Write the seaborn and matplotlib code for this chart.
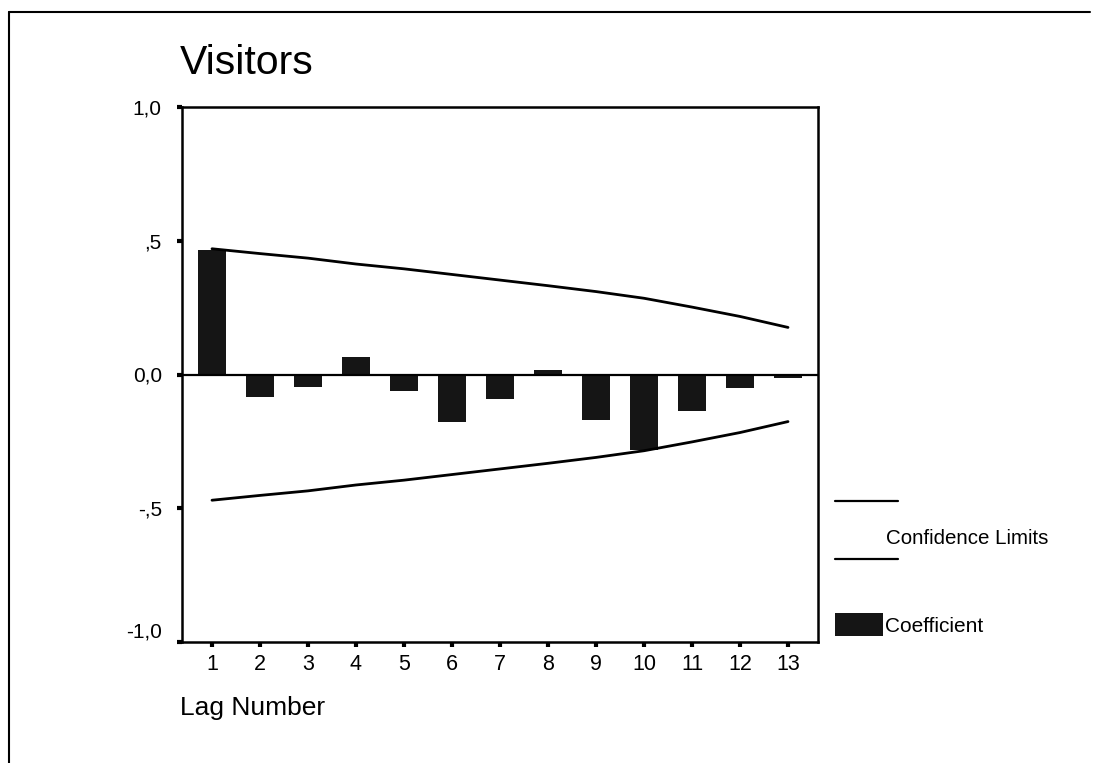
import matplotlib
matplotlib.use("Agg")
import matplotlib.pyplot as plt
import matplotlib.transforms as mtransforms
from matplotlib.lines import Line2D
from matplotlib.patches import Rectangle
import numpy as np
import pandas as pd
import seaborn as sns

# ---- data ----
lags = [1, 2, 3, 4, 5, 6, 7, 8, 9, 10, 11, 12, 13]
coefficient = [0.466, -0.083, -0.047, 0.065, -0.060, -0.177, -0.093, 0.017,
               -0.170, -0.284, -0.137, -0.052, -0.014]
upper_limit = [0.470, 0.452, 0.435, 0.413, 0.395, 0.374, 0.353, 0.332,
               0.310, 0.285, 0.252, 0.217, 0.176]
lower_limit = [-v for v in upper_limit]
y_ticks = [-1.0, -0.5, 0.0, 0.5, 1.0]
y_tick_labels = ["-1,0", "-,5", "0,0", ",5", "1,0"]
title = "Visitors"
x_title = "Lag Number"
legend_ci = "Confidence Limits"
legend_coef = "Coefficient"

sns.set_theme(style="white")
plt.rcParams["font.family"] = ["Liberation Sans", "DejaVu Sans"]

W, H = 1096, 763
fig = plt.figure(figsize=(W / 100, H / 100), dpi=100)
fig.patch.set_facecolor("white")

def fx(px):
    return px / W

def fy(py):
    return 1 - py / H

ax = fig.add_axes([fx(182), fy(642), fx(818) - fx(182), fy(107) - fy(642)])
ax.set_facecolor("white")

df = pd.DataFrame({"lag": lags, "coef": coefficient,
                   "upper": upper_limit, "lower": lower_limit})

sns.barplot(data=df, x="lag", y="coef", native_scale=True, width=0.58,
            color="#151515", saturation=1, edgecolor="none", linewidth=0, ax=ax)
sns.lineplot(data=df, x="lag", y="upper", color="black", linewidth=2.0, ax=ax)
sns.lineplot(data=df, x="lag", y="lower", color="black", linewidth=2.0, ax=ax)
ax.axhline(0, color="black", linewidth=1.6, zorder=1)

ax.set_xlim(0.375, 13.625)
ax.set_ylim(-1.0, 1.0)
ax.set_xticks(lags)
ax.set_xticklabels([str(l) for l in lags])
ax.set_yticks(y_ticks)
ax.set_yticklabels(y_tick_labels)
ax.set_xlabel("")
ax.set_ylabel("")

for s in ax.spines.values():
    s.set_color("black")
    s.set_linewidth(1.8)

ax.tick_params(axis="y", direction="out", length=3.5, width=3.0, color="black",
               pad=11, labelsize=15, labelcolor="black", left=True)
ax.tick_params(axis="x", direction="out", length=3.5, width=3.0, color="black",
               pad=5, labelsize=15.5, labelcolor="black", bottom=True)

# SPSS places the bottom label slightly above its tick
lab = ax.get_yticklabels()[0]
lab.set_transform(lab.get_transform() +
                  mtransforms.ScaledTranslation(0, 12 / 100, fig.dpi_scale_trans))

# titles
fig.text(fx(180), fy(74), title, fontsize=29.5, ha="left", va="baseline", color="black")
fig.text(fx(180), fy(715), x_title, fontsize=19, ha="left", va="baseline", color="black")

# legend (manual, SPSS style)
fig.add_artist(Line2D([fx(835), fx(898)], [fy(501), fy(501)], color="black",
                      linewidth=1.6, transform=fig.transFigure))
fig.add_artist(Line2D([fx(835), fx(898)], [fy(559), fy(559)], color="black",
                      linewidth=1.6, transform=fig.transFigure))
fig.text(fx(886), fy(538), legend_ci, fontsize=14.8, ha="left", va="center", color="black")
fig.add_artist(Rectangle((fx(835), fy(636)), fx(883) - fx(835), fy(613) - fy(636),
                         facecolor="#151515", edgecolor="none", transform=fig.transFigure))
fig.text(fx(885), fy(627), legend_coef, fontsize=15, ha="left", va="center", color="black")

# outer frame (top and left edges visible)
fig.add_artist(Line2D([fx(9), fx(1090)], [fy(12), fy(12)], color="black",
                      linewidth=1.5, transform=fig.transFigure))
fig.add_artist(Line2D([fx(9), fx(9)], [fy(12), fy(763)], color="black",
                      linewidth=1.5, transform=fig.transFigure))

fig.savefig("out.png", dpi=100, facecolor="white")
